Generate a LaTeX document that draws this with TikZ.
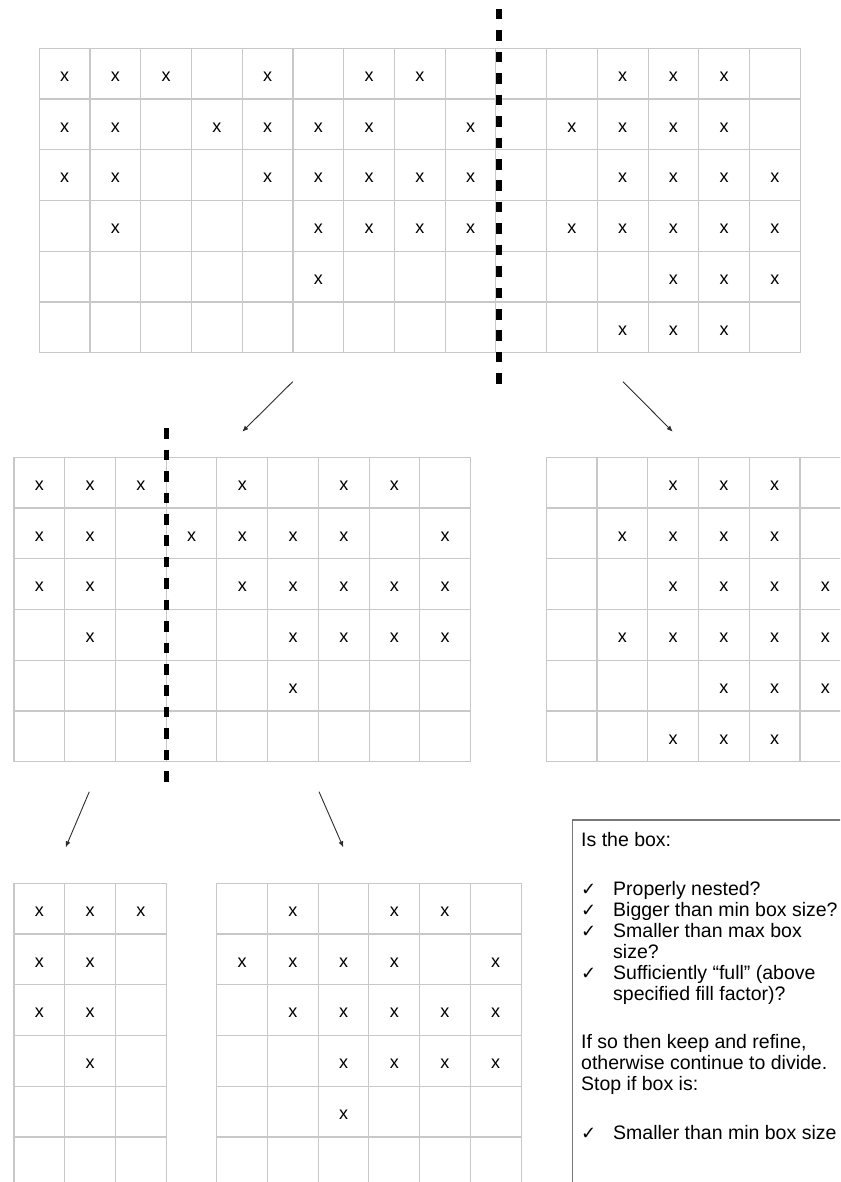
\documentclass[tikz,border=0pt]{standalone}
\usepackage{fontspec}
\setmainfont{Liberation Sans}
\newfontfamily\checkfont{DejaVu Sans}
\usetikzlibrary{arrows.meta}
\definecolor{cellLine}{RGB}{200,200,200}
\definecolor{boxLine}{RGB}{120,120,120}
\definecolor{arrowInk}{RGB}{45,45,45}
\tikzset{
  cellline/.style={draw=cellLine, line width=1.1pt},
  xmark/.style={font=\fontsize{18}{20}\selectfont, inner sep=0pt},
  cutline/.style={line width=5.6pt, dash pattern=on 10.5pt off 10.93pt},
  flow/.style={-{Latex[length=6pt,width=5pt]}, line width=0.9pt, draw=arrowInk},
  infobox/.style={draw=boxLine, line width=1.2pt},
  infoline/.style={anchor=base west, inner sep=0pt, font=\fontsize{19.5}{21}\selectfont}
}
\def\cw{50.73}
% filled cells of the whole box, row/column
\def\allmarks{0/0,0/1,0/2,0/4,0/6,0/7,0/11,0/12,0/13,%
1/0,1/1,1/3,1/4,1/5,1/6,1/8,1/10,1/11,1/12,1/13,%
2/0,2/1,2/4,2/5,2/6,2/7,2/8,2/11,2/12,2/13,2/14,%
3/1,3/5,3/6,3/7,3/8,3/10,3/11,3/12,3/13,3/14,%
4/5,4/12,4/13,4/14,%
5/11,5/12,5/13}
% #1 name, #2 #3 top left corner, #4 first column, #5 last column
\newcommand{\cellbox}[5]{%
  \pgfmathtruncatemacro\ncols{#5-#4+1}
  \foreach \k in {0,...,\ncols}
    \draw[cellline] ({#2+\k*\cw},#3) -- ++(0,{6*\cw});
  \foreach \k in {0,...,6}
    \draw[cellline] (#2,{#3+\k*\cw}) -- ++({\ncols*\cw},0);
  \foreach \r/\c in \allmarks {
    \ifnum\c<#4\relax\else\ifnum\c>#5\relax\else
      \node[xmark] (#1-\r-\c) at ({#2+(\c-#4+0.5)*\cw},{#3+(\r+0.56)*\cw}) {x};
    \fi\fi
  }
}
\newcommand{\chk}{\makebox[32pt][l]{{\checkfont\fontsize{18}{18}\selectfont ✓}}}

\begin{document}
\begin{tikzpicture}[x=1pt, y=-1pt]
  \useasboundingbox (0,0) rectangle (840,1182);
  \fill[white] (0,0) rectangle (840,1182);
  \clip (0,0) rectangle (840,1182);

  % boxes
  \cellbox{top}{39.3}{48.3}{0}{14}
  \cellbox{left}{14}{457.3}{0}{8}
  \cellbox{right}{546.3}{457.3}{9}{14}
  \cellbox{leftA}{14}{883.3}{0}{2}
  \cellbox{leftB}{216.7}{883.3}{3}{8}

  % cuts
  \coordinate (cutA1) at (499.2,9);
  \coordinate (cutA2) at (499.2,384.3);
  \coordinate (cutB1) at (166.3,428.3);
  \coordinate (cutB2) at (166.3,782.3);
  \draw[cutline] (cutA1) -- (cutA2);
  \draw[cutline] (cutB1) -- (cutB2);

  % arrows
  \coordinate (splitL) at (292.7,381.7);
  \coordinate (toLeft) at (242.3,431.7);
  \coordinate (splitR) at (623,381.7);
  \coordinate (toRight) at (672.7,431.7);
  \coordinate (splitLL) at (89.3,791.7);
  \coordinate (toLeftA) at (65.7,847.3);
  \coordinate (splitLR) at (319,791.7);
  \coordinate (toLeftB) at (343.3,847.3);
  \draw[flow] (splitL) -- (toLeft);
  \draw[flow] (splitR) -- (toRight);
  \draw[flow] (splitLL) -- (toLeftA);
  \draw[flow] (splitLR) -- (toLeftB);

  % criteria
  \draw[infobox] (572.7,820) rectangle (870,1210);
  \node[infoline] (q0) at (581,846.5) {Is the box:};
  \node[infoline] (q1) at (581,895) {\chk Properly nested?};
  \node[infoline] (q2) at (581,916) {\chk Bigger than min box size?};
  \node[infoline] (q3) at (581,937) {\chk Smaller than max box};
  \node[infoline] (q3b) at (613,958) {size?};
  \node[infoline] (q4) at (581,979) {\chk Sufficiently “full” (above};
  \node[infoline] (q4b) at (613,1000) {specified fill factor)?};
  \node[infoline] (r0) at (581,1048.5) {If so then keep and refine,};
  \node[infoline] (r1) at (581,1069.5) {otherwise continue to divide.};
  \node[infoline] (r2) at (581,1090.5) {Stop if box is:};
  \node[infoline] (r3) at (581,1139) {\chk Smaller than min box size};
\end{tikzpicture}
\end{document}
